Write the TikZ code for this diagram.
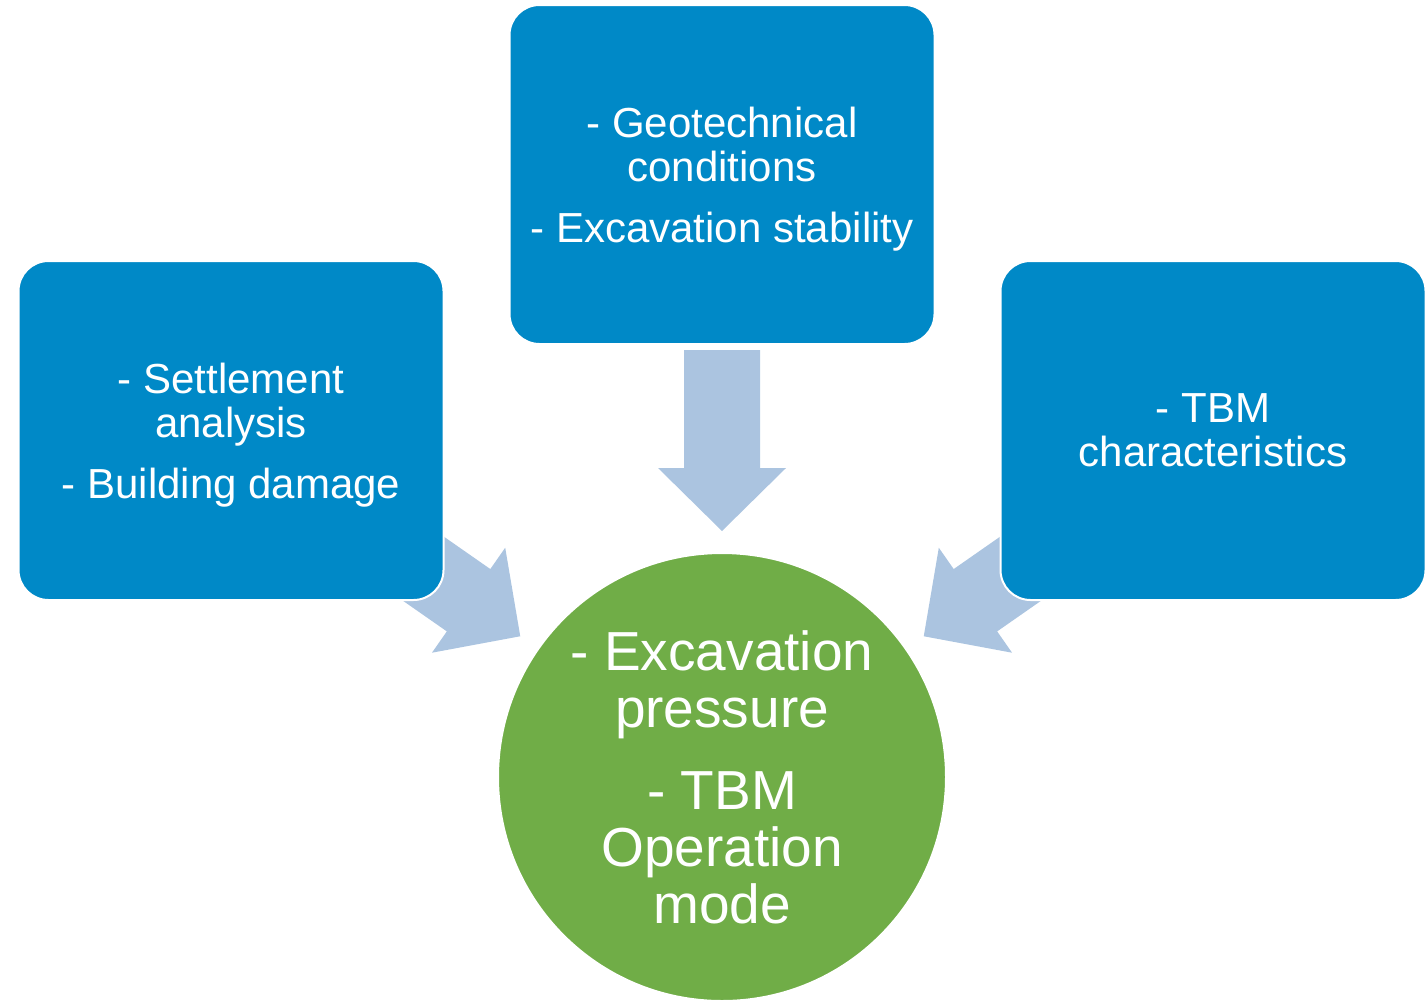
\documentclass[tikz,border=0pt]{standalone}
\usepackage{fontspec}
\setmainfont{Liberation Sans}
\usetikzlibrary{shapes, positioning, calc}
\definecolor{boxblue}{RGB}{0,137,199}
\definecolor{arrowblue}{RGB}{171,196,224}
\definecolor{modegreen}{RGB}{112,173,71}
\tikzstyle{block}=[draw=white,line width=1pt,fill=boxblue,rectangle,rounded corners=15pt,minimum width=212.5pt,minimum height=169.5pt,inner sep=0pt,text depth=0pt,text=white,align=center,font=\fontsize{21}{22}\selectfont]
\tikzstyle{goal}=[draw=white,line width=1pt,fill=modegreen,circle,minimum size=224pt,inner sep=0pt,text=white,align=center,font=\fontsize{27.5}{28.5}\selectfont]
\tikzstyle{flow}=[fill=arrowblue]
% broad arrow, tip at #1, turned by #2
\newcommand{\bigarrow}[2]{%
  \fill[flow,shift={(#1)},rotate=#2] (0,0) -- (-63,64) -- (-63,38) -- (-181,38)
    -- (-181,-38) -- (-63,-38) -- (-63,-64) -- cycle;}

\begin{document}
\begin{tikzpicture}[x=0.5pt,y=-0.5pt]
  \useasboundingbox (0,0) rectangle (1428,1001);
  \node[goal] (mode) at (722,777) {- Excavation\\pressure\\[12.5pt]- TBM\\Operation\\mode};
  \coordinate (tipT) at ($(mode.center)+(270:246)$);
  \coordinate (tipL) at ($(mode.center)+(214.9:246)$);
  \coordinate (tipR) at ($(mode.center)+(325.1:246)$);
  \bigarrow{tipT}{-90}
  \bigarrow{tipL}{-34.9}
  \bigarrow{tipR}{-145.1}
  \node[block, above=103.5pt of mode] (geo) {- Geotechnical\\conditions\\[8.5pt]- Excavation stability};
  \node[block, left=32pt of geo, yshift=-128pt] (settle) {- Settlement\\analysis\\[8.5pt]- Building damage};
  \node[block, right=32pt of geo, yshift=-128pt] (tbm) {- TBM\\characteristics};
\end{tikzpicture}
\end{document}
